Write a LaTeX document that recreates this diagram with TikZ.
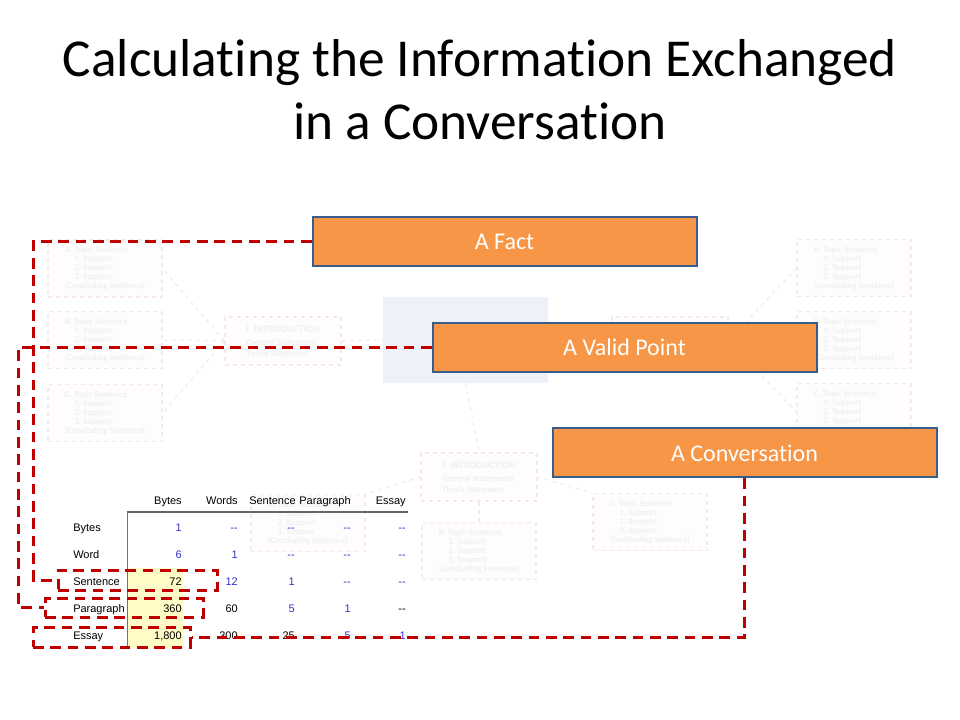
\documentclass[tikz,border=0pt]{standalone}
\usepackage{fontspec}
\setmainfont{Carlito}[Ligatures={NoCommon}]
\newfontfamily\tblfont{Liberation Sans}
\usetikzlibrary{positioning,calc}
\definecolor{slideorange}{HTML}{F79646}
\definecolor{slideblue}{HTML}{385D8A}
\definecolor{markred}{HTML}{C00000}
\definecolor{cellblue}{HTML}{3333CC}
\definecolor{cellyellow}{HTML}{FFFCC8}
\definecolor{fadeline}{HTML}{F7E8E8}
\definecolor{fadetext}{HTML}{F0F0F0}
\definecolor{fadefill}{HTML}{FEFCFC}
\definecolor{fadeblue}{HTML}{EEF2F8}
\tikzstyle{obox}=[rectangle, draw=slideblue, fill=slideorange, line width=1.5pt,
                  minimum width=288pt, minimum height=36.75pt, text=white,
                  font=\fontsize{18}{21}\selectfont]
\tikzstyle{mline}=[draw=markred, line width=2.25pt, dash pattern=on 8pt off 5pt]
\tikzstyle{mbox}=[mline, rectangle, inner sep=0pt]
\tikzstyle{tbox}=[rectangle, draw=fadeline, fill=fadefill, dashed, thick,
                  minimum width=85.5pt, minimum height=42.75pt, text=fadetext,
                  align=left, font=\fontsize{6.5}{6.75}\selectfont\bfseries]
\tikzstyle{ibox}=[tbox, minimum width=87pt, minimum height=36pt,
                  font=\fontsize{6.5}{8}\selectfont\bfseries]
\tikzstyle{fline}=[draw=fadeline, dashed, thick]
\tikzstyle{rlabel}=[anchor=base west, inner sep=0pt, font=\tblfont\fontsize{8.25}{10}\selectfont]
\tikzstyle{cellk}=[anchor=base east, inner sep=0pt, font=\tblfont\fontsize{8.25}{10}\selectfont]
\tikzstyle{cellb}=[cellk, text=cellblue]
\newcommand{\topictext}[1]{#1. Topic Sentence\\\hspace*{7pt}1. Support\\\hspace*{7pt}2. Support\\\hspace*{7pt}3. Support\\(Concluding Sentence)}
\newcommand{\introtext}{{\fontsize{7.5}{9}\selectfont I. INTRODUCTION}\\[2pt]General Statements\\Thesis Statement}

\begin{document}
\begin{tikzpicture}[x=0.75pt, y=-0.75pt]
\path[use as bounding box, fill=white] (0,0) rectangle (960,720);

% faded essay map behind
\node (CTR) [rectangle, fill=fadeblue, minimum width=123.75pt, minimum height=64.5pt] at (465.5,340) {};
\node (LINT) [ibox] at (283,341) {\introtext};
\node (LTPA) [tbox] at (105,268.5) {\topictext{A}};
\node (LTPB) [tbox] at (105,340) {\topictext{B}};
\node (LTPC) [tbox] at (105,413) {\topictext{C}};
 \draw[fline] (LINT.west) -- (LTPA.east);
 \draw[fline] (LINT.west) -- (LTPB.east);
 \draw[fline] (LINT.west) -- (LTPC.east);
 \draw[fline] (LINT.east) -- (CTR.west);
\node (RINT) [ibox] at (670,341) {};
\node (RTPA) [tbox] at (854,268) {\topictext{A}};
\node (RTPB) [tbox] at (854,340) {\topictext{B}};
\node (RTPC) [tbox] at (854,412) {\topictext{C}};
 \draw[fline] (RINT.east) -- (RTPA.west);
 \draw[fline] (RINT.east) -- (RTPB.west);
 \draw[fline] (RINT.east) -- (RTPC.west);
 \draw[fline] (CTR.east) -- (RINT.west);
\node (BINT) [ibox] at (479,477) {\introtext};
\node (BTPA) [tbox] at (308,523) {\topictext{A}};
\node (BTPB) [tbox] at (479,551) {\topictext{B}};
\node (BTPC) [tbox] at (650,522) {\topictext{C}};
 \draw[fline] (CTR.south) -- (BINT.north);
 \draw[fline] (BINT.south) -- (BTPB.north);
 \draw[fline] (BINT.east) -- (BTPC.north west);
 \draw[fline] (BINT.west) -- (BTPA.north east);

% title
\node (TTL) [anchor=north, align=center, inner sep=0pt, font=\fontsize{40}{47.25}\selectfont]
  at (480,39) {Calculating the Information Exchanged\\in a Conversation};

% table
\fill[cellyellow] (128,568) rectangle (183,648);
\draw[black!60, line width=1.1pt] (127,512) -- (408,512);
\draw[black!55, line width=1.1pt] (127.5,512) -- (127.5,648);
\node (HBYT) [cellk] at (182,504) {Bytes};
\node (HWRD) [cellk] at (238,504) {Words};
\node (HSNT) [cellk] at (296,504) {Sentence};
\node (HPRG) [cellk] at (351,504) {Paragraph};
\node (HESY) [cellk] at (406,504) {Essay};
\node (RBYT) [rlabel] at (73,531) {Bytes};
\node (C11) [cellb] at (182,531) {1}; \node (C12) [cellb] at (238,531) {-{}-};
\node (C13) [cellb] at (295,531) {-{}-}; \node (C14) [cellb] at (351,531) {-{}-};
\node (C15) [cellb] at (406,531) {-{}-};
\node (RWRD) [rlabel] at (73,558) {Word};
\node (C21) [cellb] at (182,558) {6}; \node (C22) [cellb] at (238,558) {1};
\node (C23) [cellb] at (295,558) {-{}-}; \node (C24) [cellb] at (351,558) {-{}-};
\node (C25) [cellb] at (406,558) {-{}-};
\node (RSNT) [rlabel] at (73,585) {Sentence};
\node (C31) [cellk] at (182,585) {72}; \node (C32) [cellb] at (238,585) {12};
\node (C33) [cellb] at (295,585) {1}; \node (C34) [cellb] at (351,585) {-{}-};
\node (C35) [cellb] at (406,585) {-{}-};
\node (RPRG) [rlabel] at (73,612) {Paragraph};
\node (C41) [cellk] at (182,612) {360}; \node (C42) [cellk] at (238,612) {60};
\node (C43) [cellb] at (295,612) {5}; \node (C44) [cellb] at (351,612) {1};
\node (C45) [cellk] at (406,612) {-{}-};
\node (RESY) [rlabel] at (73,639) {Essay};
\node (C51) [cellk] at (182,639) {1,800}; \node (C52) [cellk] at (238,639) {300};
\node (C53) [cellk] at (295,639) {25}; \node (C54) [cellb] at (351,639) {5};
\node (C55) [cellb] at (406,639) {1};

% marked rows
\node (SNTB) [mbox, minimum width=119.25pt, minimum height=15pt] at (137.5,580) {};
\node (PRGB) [mbox, minimum width=118.5pt, minimum height=14.25pt] at (124,607.5) {};
\node (ESYB) [mbox, minimum width=117.75pt, minimum height=15pt] at (111.5,637) {};

% the three levels
\node (FACT) [obox] at (504.5,241.5) {A Fact};
\node (VPNT) [obox, below=41pt of FACT, xshift=90pt] {A Valid Point};
\node (CONV) [obox, below=41pt of VPNT, xshift=90pt] {A Conversation};
 \draw[mline] (FACT.west) -- ++(-278,0) |- (SNTB.west);
 \draw[mline] (VPNT.west) -- ++(-413,0) |- (PRGB.west);
 \draw[mline] (CONV.south) |- (ESYB.east);

\end{tikzpicture}
\end{document}
